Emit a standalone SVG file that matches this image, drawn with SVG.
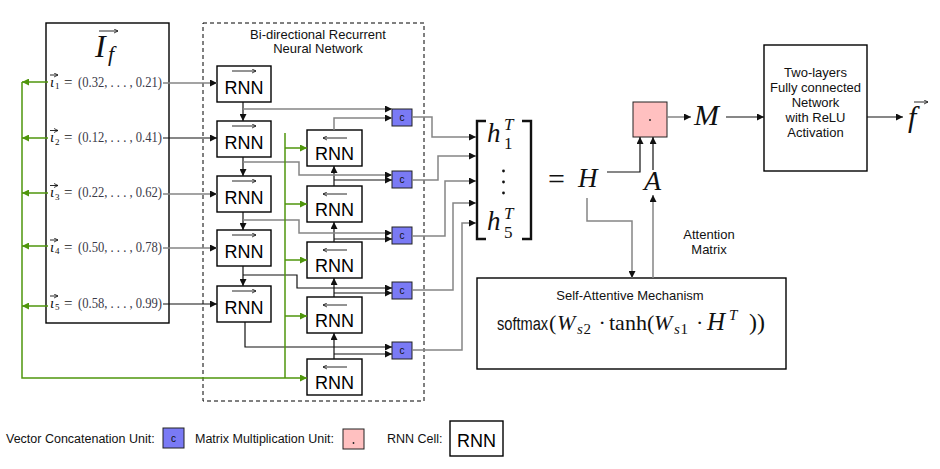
<svg xmlns="http://www.w3.org/2000/svg" width="940" height="469" viewBox="0 0 940 469">
<style>
.box{fill:#fff;stroke:#000;stroke-width:1.4}
.rnn{font-family:"Liberation Sans",Arial,sans-serif;font-size:18px;text-anchor:middle;fill:#000}
.cb{fill:#7a7af5;stroke:#222;stroke-width:1}
.pb{fill:#ffc0c0;stroke:#222;stroke-width:1}
.ct{font-family:"Liberation Sans",Arial,sans-serif;font-size:10px;text-anchor:middle;fill:#111}
.sans{font-family:"Liberation Sans",Arial,sans-serif;font-size:13px;fill:#111}
.leg{font-size:12.5px}
.mid{text-anchor:middle}
.m{font-family:"Liberation Serif","Times New Roman",serif;fill:#111}
.i{font-style:italic}
.num{font-family:"Liberation Serif","Times New Roman",serif;font-size:15px;fill:#3a3a48}
.k{fill:none;stroke:#111;stroke-width:1.2}
.g{fill:none;stroke:#858585;stroke-width:1.5}
.gr{fill:none;stroke:#4f960c;stroke-width:1.5}
.ov{fill:none;stroke:#111;stroke-width:0.9}
</style>
<defs>
<marker id="ah" viewBox="0 0 10 10" refX="10" refY="5" markerWidth="9" markerHeight="7" markerUnits="userSpaceOnUse" orient="auto"><path d="M0,0 L10,5 L0,10 z" fill="#111"/></marker>
<marker id="ag" viewBox="0 0 10 10" refX="10" refY="5" markerWidth="9" markerHeight="7" markerUnits="userSpaceOnUse" orient="auto"><path d="M0,0 L10,5 L0,10 z" fill="#4f960c"/></marker>
<marker id="oa" viewBox="0 0 10 10" refX="10" refY="5" markerWidth="5" markerHeight="5" markerUnits="userSpaceOnUse" orient="auto"><path d="M2,1 L10,5 L2,9" fill="none" stroke="#111" stroke-width="1.6"/></marker>
</defs>

<!-- Input panel -->
<g id="input">
<rect class="box" x="46" y="23" width="123" height="300"/>
<text class="m i" font-size="32"><tspan x="95" y="57">I</tspan><tspan x="108" y="61" font-size="22">f</tspan></text>
<line class="ov" x1="99" y1="31" x2="118" y2="31" marker-end="url(#oa)"/>
</g>

<g id="rows">
<g id="row1">
<text class="m" font-size="15"><tspan class="i" x="50" y="86.5">ι</tspan><tspan x="55" y="89" font-size="9">1</tspan><tspan x="64" y="86.5">=</tspan></text>
<line class="ov" x1="50" y1="75" x2="58" y2="75" marker-end="url(#oa)"/>
<text class="num" x="78" y="86.5" textLength="84" lengthAdjust="spacingAndGlyphs">(0.32, . . . , 0.21)</text>
</g>
<g id="row2">
<text class="m" font-size="15"><tspan class="i" x="50" y="142">ι</tspan><tspan x="55" y="144.5" font-size="9">2</tspan><tspan x="64" y="142">=</tspan></text>
<line class="ov" x1="50" y1="130.5" x2="58" y2="130.5" marker-end="url(#oa)"/>
<text class="num" x="78" y="142" textLength="84" lengthAdjust="spacingAndGlyphs">(0.12, . . . , 0.41)</text>
</g>
<g id="row3">
<text class="m" font-size="15"><tspan class="i" x="50" y="197">ι</tspan><tspan x="55" y="199.5" font-size="9">3</tspan><tspan x="64" y="197">=</tspan></text>
<line class="ov" x1="50" y1="185.5" x2="58" y2="185.5" marker-end="url(#oa)"/>
<text class="num" x="78" y="197" textLength="84" lengthAdjust="spacingAndGlyphs">(0.22, . . . , 0.62)</text>
</g>
<g id="row4">
<text class="m" font-size="15"><tspan class="i" x="50" y="251.5">ι</tspan><tspan x="55" y="254" font-size="9">4</tspan><tspan x="64" y="251.5">=</tspan></text>
<line class="ov" x1="50" y1="240" x2="58" y2="240" marker-end="url(#oa)"/>
<text class="num" x="78" y="251.5" textLength="84" lengthAdjust="spacingAndGlyphs">(0.50, . . . , 0.78)</text>
</g>
<g id="row5">
<text class="m" font-size="15"><tspan class="i" x="50" y="307.5">ι</tspan><tspan x="55" y="310" font-size="9">5</tspan><tspan x="64" y="307.5">=</tspan></text>
<line class="ov" x1="50" y1="296" x2="58" y2="296" marker-end="url(#oa)"/>
<text class="num" x="78" y="307.5" textLength="84" lengthAdjust="spacingAndGlyphs">(0.58, . . . , 0.99)</text>
</g>
</g>

<!-- BiRNN frame -->
<g id="birnn">
<rect x="203" y="23" width="221" height="378" fill="none" stroke="#000" stroke-width="1" stroke-dasharray="4,3"/>
<text class="sans mid" x="318" y="39">Bi-directional Recurrent</text>
<text class="sans mid" x="318" y="53">Neural Network</text>
</g>

<g id="fwd1"><rect class="box" x="217" y="66" width="54" height="36"/><line class="ov" x1="232" y1="71" x2="256" y2="71" marker-end="url(#oa)"/><text class="rnn" x="244" y="94">RNN</text></g>
<g id="fwd2"><rect class="box" x="217" y="121" width="54" height="36"/><line class="ov" x1="232" y1="126" x2="256" y2="126" marker-end="url(#oa)"/><text class="rnn" x="244" y="149">RNN</text></g>
<g id="fwd3"><rect class="box" x="217" y="176" width="54" height="36"/><line class="ov" x1="232" y1="181" x2="256" y2="181" marker-end="url(#oa)"/><text class="rnn" x="244" y="204">RNN</text></g>
<g id="fwd4"><rect class="box" x="217" y="230" width="54" height="36"/><line class="ov" x1="232" y1="235" x2="256" y2="235" marker-end="url(#oa)"/><text class="rnn" x="244" y="258">RNN</text></g>
<g id="fwd5"><rect class="box" x="217" y="286" width="54" height="36"/><line class="ov" x1="232" y1="291" x2="256" y2="291" marker-end="url(#oa)"/><text class="rnn" x="244" y="314">RNN</text></g>

<g id="bwd1"><rect class="box" x="307" y="130" width="55" height="36"/><line class="ov" x1="347" y1="138" x2="323" y2="138" marker-end="url(#oa)"/><text class="rnn" x="334.5" y="160">RNN</text></g>
<g id="bwd2"><rect class="box" x="307" y="186" width="55" height="36"/><line class="ov" x1="347" y1="194" x2="323" y2="194" marker-end="url(#oa)"/><text class="rnn" x="334.5" y="216">RNN</text></g>
<g id="bwd3"><rect class="box" x="307" y="242" width="55" height="36"/><line class="ov" x1="347" y1="250" x2="323" y2="250" marker-end="url(#oa)"/><text class="rnn" x="334.5" y="272">RNN</text></g>
<g id="bwd4"><rect class="box" x="307" y="297" width="55" height="36"/><line class="ov" x1="347" y1="305" x2="323" y2="305" marker-end="url(#oa)"/><text class="rnn" x="334.5" y="327">RNN</text></g>
<g id="bwd5"><rect class="box" x="307" y="359" width="55" height="36"/><line class="ov" x1="347" y1="367" x2="323" y2="367" marker-end="url(#oa)"/><text class="rnn" x="334.5" y="389">RNN</text></g>

<g id="concat1"><rect class="cb" x="392" y="109" width="20" height="17"/><text class="ct" x="402" y="121">c</text></g>
<g id="concat2"><rect class="cb" x="392" y="171" width="20" height="17"/><text class="ct" x="402" y="183">c</text></g>
<g id="concat3"><rect class="cb" x="392" y="227" width="20" height="17"/><text class="ct" x="402" y="239">c</text></g>
<g id="concat4"><rect class="cb" x="392" y="282" width="20" height="17"/><text class="ct" x="402" y="294">c</text></g>
<g id="concat5"><rect class="cb" x="392" y="342" width="20" height="17"/><text class="ct" x="402" y="354">c</text></g>

<g id="matrix">
<path d="M486,121 H477 V239 H486" fill="none" stroke="#111" stroke-width="2.4"/>
<path d="M522,121 H531 V239 H522" fill="none" stroke="#111" stroke-width="2.4"/>
<text class="m" font-size="27"><tspan class="i" x="487" y="142">h</tspan><tspan class="i" x="504" y="130" font-size="17">T</tspan><tspan x="504" y="149" font-size="17">1</tspan></text>
<circle cx="503.5" cy="171" r="1.4" fill="#111"/><circle cx="503.5" cy="182" r="1.4" fill="#111"/><circle cx="503.5" cy="193" r="1.4" fill="#111"/>
<text class="m" font-size="27"><tspan class="i" x="487" y="230">h</tspan><tspan class="i" x="504" y="219" font-size="17">T</tspan><tspan x="504" y="238" font-size="17">5</tspan></text>
<text class="m" font-size="30"><tspan x="548" y="189">=</tspan><tspan class="i" x="578" y="187" font-size="27">H</tspan></text>
</g>

<g id="A-label"><text class="m i" x="644" y="190" font-size="28">A</text></g>

<g id="matmul"><rect class="pb" x="633" y="102" width="34" height="35"/><circle cx="650" cy="120" r="0.9" fill="#222"/></g>

<g id="M-label"><text class="m i" x="694" y="125" font-size="30">M</text></g>

<g id="fc">
<rect class="box" x="764" y="45" width="103" height="126"/>
<text class="sans mid" x="815.5" y="77">Two-layers</text>
<text class="sans mid" x="815.5" y="92">Fully connected</text>
<text class="sans mid" x="815.5" y="107">Network</text>
<text class="sans mid" x="815.5" y="122">with ReLU</text>
<text class="sans mid" x="815.5" y="137">Activation</text>
</g>

<g id="output"><text class="m i" x="908" y="127" font-size="30">f</text><line class="ov" x1="914" y1="102" x2="928" y2="102" marker-end="url(#oa)"/></g>

<g id="attn-label">
<text class="sans mid" x="709" y="239">Attention</text>
<text class="sans mid" x="709" y="254">Matrix</text>
</g>

<g id="selfatt">
<rect class="box" x="477" y="278" width="309" height="91"/>
<text class="sans mid" x="630" y="300">Self-Attentive Mechanism</text>
<text transform="translate(497,330) scale(0.77,1)" x="0" y="0" font-family="Liberation Sans, Arial, sans-serif" font-size="19" fill="#111">softmax</text>
<text class="m" font-size="22"><tspan x="549" y="330">(</tspan><tspan class="i" x="557" y="330">W</tspan><tspan class="i" x="577" y="334" font-size="15">s</tspan><tspan x="583.5" y="334" font-size="15">2</tspan><tspan x="598.5" y="330">·</tspan><tspan x="609" y="330">tanh(</tspan><tspan class="i" x="654" y="330">W</tspan><tspan class="i" x="674" y="334" font-size="15">s</tspan><tspan x="680.5" y="334" font-size="15">1</tspan><tspan x="696" y="330">·</tspan><tspan class="i" x="707" y="330" font-size="25">H</tspan><tspan class="i" x="729" y="320" font-size="15">T</tspan><tspan x="749" y="330" font-size="24">))</tspan></text>
</g>

<g id="connectors">
<!-- inputs -->
<path class="g" d="M163,83 H217" marker-end="url(#ah)"/>
<path class="k" d="M163,138 H217" marker-end="url(#ah)"/>
<path class="g" d="M163,194 H217" marker-end="url(#ah)"/>
<path class="g" d="M163,248 H217" marker-end="url(#ah)"/>
<path class="k" d="M163,304 H217" marker-end="url(#ah)"/>
<!-- forward chain -->
<path class="k" d="M243,102 V121" marker-end="url(#ah)"/>
<path class="k" d="M243,157 V176" marker-end="url(#ah)"/>
<path class="k" d="M243,212 V230" marker-end="url(#ah)"/>
<path class="k" d="M243,266 V286" marker-end="url(#ah)"/>
<!-- backward chain -->
<path class="k" d="M334,186 V166" marker-end="url(#ah)"/>
<path class="k" d="M334,242 V222" marker-end="url(#ah)"/>
<path class="k" d="M334,297 V278" marker-end="url(#ah)"/>
<path class="k" d="M334,359 V333" marker-end="url(#ah)"/>
<!-- forward to concat -->
<path class="g" d="M243,109 H392" marker-end="url(#ah)"/>
<path class="g" d="M243,162 H299 V175 H392" marker-end="url(#ah)"/>
<path class="g" d="M243,220 H299 V233 H392" marker-end="url(#ah)"/>
<path class="k" d="M243,275 H297 V288 H392" marker-end="url(#ah)"/>
<path class="k" d="M245,322 V347 H392" marker-end="url(#ah)"/>
<!-- backward to concat -->
<path class="g" d="M334,130 V118 H392" marker-end="url(#ah)"/>
<path class="k" d="M334,180 H392" marker-end="url(#ah)"/>
<path class="k" d="M334,239 H392" marker-end="url(#ah)"/>
<path class="k" d="M334,293 H392" marker-end="url(#ah)"/>
<path class="k" d="M334,354 H392" marker-end="url(#ah)"/>
<!-- concat to matrix -->
<path class="g" d="M412,117 H432 V137 H476" marker-end="url(#ah)"/>
<path class="g" d="M412,180 H438 V156 H476" marker-end="url(#ah)"/>
<path class="g" d="M412,236 H445 V181 H476" marker-end="url(#ah)"/>
<path class="g" d="M412,290 H453 V203 H476" marker-end="url(#ah)"/>
<path class="g" d="M412,350 H462 V223 H476" marker-end="url(#ah)"/>
<!-- green -->
<path class="gr" d="M22,82 V378 H307" marker-end="url(#ag)"/>
<path class="gr" d="M48,82 H22" marker-end="url(#ag)"/>
<path class="gr" d="M48,138 H22" marker-end="url(#ag)"/>
<path class="gr" d="M48,193 H22" marker-end="url(#ag)"/>
<path class="gr" d="M48,246 H22" marker-end="url(#ag)"/>
<path class="gr" d="M48,306 H22" marker-end="url(#ag)"/>
<path class="gr" d="M285,133 V378"/>
<path class="gr" d="M285,148 H307" marker-end="url(#ag)"/>
<path class="gr" d="M285,204 H307" marker-end="url(#ag)"/>
<path class="gr" d="M285,260 H307" marker-end="url(#ag)"/>
<path class="gr" d="M285,316 H307" marker-end="url(#ag)"/>
<!-- right side -->
<path class="k" d="M607,172 H640 V137" marker-end="url(#ah)"/>
<path class="k" d="M653,170 V137" marker-end="url(#ah)"/>
<path class="g" d="M667,117 H691" marker-end="url(#ah)"/>
<path class="k" d="M726,117 H764" marker-end="url(#ah)"/>
<path class="k" d="M867,117 H903" marker-end="url(#ah)"/>
<path class="g" d="M587,198 V221 H632 V278" marker-end="url(#ah)"/>
<path class="g" d="M653,278 V195" marker-end="url(#ah)"/>
</g>

<g id="legend">
<text class="sans leg" x="6" y="443">Vector Concatenation Unit:</text>
<rect class="cb" x="163" y="428" width="21" height="20"/><text class="ct" x="173.5" y="442">c</text>
<text class="sans leg" x="195" y="443">Matrix Multiplication Unit:</text>
<rect class="pb" x="343" y="429" width="21" height="20"/><circle cx="353.5" cy="443" r="0.9" fill="#222"/>
<text class="sans leg" x="387" y="443">RNN Cell:</text>
<rect class="box" x="450" y="421" width="53" height="35"/><text class="rnn" x="476.5" y="447" font-size="21">RNN</text>
</g>
</svg>
